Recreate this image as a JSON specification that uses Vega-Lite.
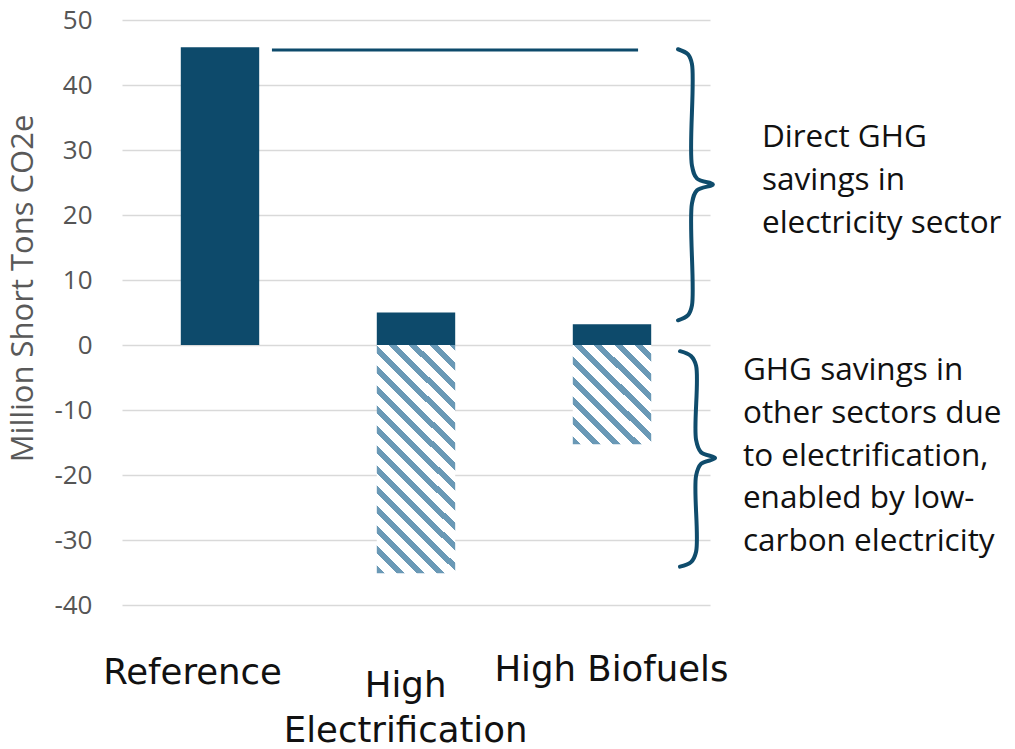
{
  "$schema": "https://vega.github.io/schema/vega-lite/v6.json",
  "width": 588,
  "height": 585,
  "autosize": {"type": "none"},
  "padding": {"left": 122, "top": 20, "right": 305, "bottom": 144},
  "background": "white",
  "config": {"view": {"stroke": null}},
  "encoding": {
    "y": {"field": "value", "type": "quantitative",
          "scale": {"domain": [-40, 50], "nice": false, "zero": true},
          "axis": {"values": [-40, -30, -20, -10, 0, 10, 20, 30, 40, 50], "title": "Million Short Tons CO2e",
                   "labelExpr": "'' + datum.value",
                   "grid": true, "gridColor": "#d9d9d9", "gridWidth": 1.5, "domain": false, "ticks": false,
                   "labelFont": "Open Sans", "labelFontSize": 26, "labelColor": "#555555", "labelPadding": 30,
                   "titleFont": "Open Sans", "titleFontSize": 31, "titleFontWeight": "normal", "titleColor": "#595959", "titlePadding": 14, "titleY": 268}}
  },
  "layer": [
    {
      "data": {"values": [
        {"scenario": "Reference", "part": "direct", "value": 45.8},
        {"scenario": "High Electrification", "part": "direct", "value": 5.0},
        {"scenario": "High Biofuels", "part": "direct", "value": 3.2},
        {"scenario": "High Electrification", "part": "other", "value": -35.1},
        {"scenario": "High Biofuels", "part": "other", "value": -15.25}
      ]},
      "encoding": {
        "x": {"field": "scenario", "type": "nominal", "sort": ["Reference", "High Electrification", "High Biofuels"],
              "scale": {"paddingInner": 0.6, "paddingOuter": 0.3}, "axis": null}
      },
      "layer": [
        {"transform": [{"filter": "datum.part === 'direct'"}], "mark": {"type": "bar", "color": "#0d4a6b"}},
        {"transform": [{"filter": "datum.part === 'other' && datum.scenario === 'High Electrification'"}],
         "mark": {"type": "bar", "fill": {"gradient": "linear", "x1": 0, "y1": 1, "x2": 0.4111, "y2": -0.2015, "stops": [
           {"offset": 0, "color": "#6a99b6"}, {"offset": 0.0261, "color": "#6a99b6"}, {"offset": 0.0261, "color": "#ffffff"}, {"offset": 0.0654, "color": "#ffffff"},
           {"offset": 0.0654, "color": "#6a99b6"}, {"offset": 0.0915, "color": "#6a99b6"}, {"offset": 0.0915, "color": "#ffffff"}, {"offset": 0.1307, "color": "#ffffff"},
           {"offset": 0.1307, "color": "#6a99b6"}, {"offset": 0.1568, "color": "#6a99b6"}, {"offset": 0.1568, "color": "#ffffff"}, {"offset": 0.1961, "color": "#ffffff"},
           {"offset": 0.1961, "color": "#6a99b6"}, {"offset": 0.2222, "color": "#6a99b6"}, {"offset": 0.2222, "color": "#ffffff"}, {"offset": 0.2614, "color": "#ffffff"},
           {"offset": 0.2614, "color": "#6a99b6"}, {"offset": 0.2875, "color": "#6a99b6"}, {"offset": 0.2875, "color": "#ffffff"}, {"offset": 0.3268, "color": "#ffffff"},
           {"offset": 0.3268, "color": "#6a99b6"}, {"offset": 0.3529, "color": "#6a99b6"}, {"offset": 0.3529, "color": "#ffffff"}, {"offset": 0.3921, "color": "#ffffff"},
           {"offset": 0.3921, "color": "#6a99b6"}, {"offset": 0.4182, "color": "#6a99b6"}, {"offset": 0.4182, "color": "#ffffff"}, {"offset": 0.4575, "color": "#ffffff"},
           {"offset": 0.4575, "color": "#6a99b6"}, {"offset": 0.4836, "color": "#6a99b6"}, {"offset": 0.4836, "color": "#ffffff"}, {"offset": 0.5228, "color": "#ffffff"},
           {"offset": 0.5228, "color": "#6a99b6"}, {"offset": 0.5489, "color": "#6a99b6"}, {"offset": 0.5489, "color": "#ffffff"}, {"offset": 0.5882, "color": "#ffffff"},
           {"offset": 0.5882, "color": "#6a99b6"}, {"offset": 0.6143, "color": "#6a99b6"}, {"offset": 0.6143, "color": "#ffffff"}, {"offset": 0.6535, "color": "#ffffff"},
           {"offset": 0.6535, "color": "#6a99b6"}, {"offset": 0.6796, "color": "#6a99b6"}, {"offset": 0.6796, "color": "#ffffff"}, {"offset": 0.7189, "color": "#ffffff"},
           {"offset": 0.7189, "color": "#6a99b6"}, {"offset": 0.745, "color": "#6a99b6"}, {"offset": 0.745, "color": "#ffffff"}, {"offset": 0.7842, "color": "#ffffff"},
           {"offset": 0.7842, "color": "#6a99b6"}, {"offset": 0.8103, "color": "#6a99b6"}, {"offset": 0.8103, "color": "#ffffff"}, {"offset": 0.8496, "color": "#ffffff"},
           {"offset": 0.8496, "color": "#6a99b6"}, {"offset": 0.8757, "color": "#6a99b6"}, {"offset": 0.8757, "color": "#ffffff"}, {"offset": 0.9149, "color": "#ffffff"},
           {"offset": 0.9149, "color": "#6a99b6"}, {"offset": 0.941, "color": "#6a99b6"}, {"offset": 0.941, "color": "#ffffff"}, {"offset": 0.9803, "color": "#ffffff"},
           {"offset": 0.9803, "color": "#6a99b6"}, {"offset": 1, "color": "#6a99b6"}
         ]}}},
        {"transform": [{"filter": "datum.part === 'other' && datum.scenario === 'High Biofuels'"}],
         "mark": {"type": "bar", "fill": {"gradient": "linear", "x1": 0, "y1": 1, "x2": 0.8691, "y2": -0.1031, "stops": [
           {"offset": 0, "color": "#6a99b6"}, {"offset": 0.0452, "color": "#6a99b6"}, {"offset": 0.0452, "color": "#ffffff"}, {"offset": 0.113, "color": "#ffffff"},
           {"offset": 0.113, "color": "#6a99b6"}, {"offset": 0.1582, "color": "#6a99b6"}, {"offset": 0.1582, "color": "#ffffff"}, {"offset": 0.226, "color": "#ffffff"},
           {"offset": 0.226, "color": "#6a99b6"}, {"offset": 0.2712, "color": "#6a99b6"}, {"offset": 0.2712, "color": "#ffffff"}, {"offset": 0.339, "color": "#ffffff"},
           {"offset": 0.339, "color": "#6a99b6"}, {"offset": 0.3842, "color": "#6a99b6"}, {"offset": 0.3842, "color": "#ffffff"}, {"offset": 0.452, "color": "#ffffff"},
           {"offset": 0.452, "color": "#6a99b6"}, {"offset": 0.4972, "color": "#6a99b6"}, {"offset": 0.4972, "color": "#ffffff"}, {"offset": 0.565, "color": "#ffffff"},
           {"offset": 0.565, "color": "#6a99b6"}, {"offset": 0.6102, "color": "#6a99b6"}, {"offset": 0.6102, "color": "#ffffff"}, {"offset": 0.678, "color": "#ffffff"},
           {"offset": 0.678, "color": "#6a99b6"}, {"offset": 0.7232, "color": "#6a99b6"}, {"offset": 0.7232, "color": "#ffffff"}, {"offset": 0.791, "color": "#ffffff"},
           {"offset": 0.791, "color": "#6a99b6"}, {"offset": 0.8362, "color": "#6a99b6"}, {"offset": 0.8362, "color": "#ffffff"}, {"offset": 0.904, "color": "#ffffff"},
           {"offset": 0.904, "color": "#6a99b6"}, {"offset": 0.9492, "color": "#6a99b6"}, {"offset": 0.9492, "color": "#ffffff"}, {"offset": 1, "color": "#ffffff"}
         ]}}}
      ]
    },
    {
      "layer": [
        {
          "data": {"values": [{"from": 0.765, "to": 2.633, "value": 45.4}]},
          "mark": {"type": "rule", "color": "#0d4a6b", "strokeWidth": 3},
          "encoding": {
            "x": {"field": "from", "type": "quantitative", "scale": {"domain": [0, 3], "nice": false, "zero": false}, "axis": null},
            "x2": {"field": "to"}
          }
        },
        {
          "data": {"values": [
            {"brace": "top", "i": 1, "pos": 2.837, "value": 45.5},
            {"brace": "top", "i": 2, "pos": 2.888, "value": 44.7},
            {"brace": "top", "i": 3, "pos": 2.908, "value": 43.2},
            {"brace": "top", "i": 4, "pos": 2.908, "value": 27.6},
            {"brace": "top", "i": 5, "pos": 2.934, "value": 25.6},
            {"brace": "top", "i": 6, "pos": 3.015, "value": 24.7},
            {"brace": "top", "i": 7, "pos": 2.934, "value": 23.8},
            {"brace": "top", "i": 8, "pos": 2.908, "value": 21.8},
            {"brace": "top", "i": 9, "pos": 2.908, "value": 6.1},
            {"brace": "top", "i": 10, "pos": 2.888, "value": 4.6},
            {"brace": "top", "i": 11, "pos": 2.837, "value": 3.8},
            {"brace": "bottom", "i": 1, "pos": 2.847, "value": -0.95},
            {"brace": "bottom", "i": 2, "pos": 2.903, "value": -1.7},
            {"brace": "bottom", "i": 3, "pos": 2.929, "value": -3.2},
            {"brace": "bottom", "i": 4, "pos": 2.929, "value": -14.6},
            {"brace": "bottom", "i": 5, "pos": 2.954, "value": -16.5},
            {"brace": "bottom", "i": 6, "pos": 3.026, "value": -17.4},
            {"brace": "bottom", "i": 7, "pos": 2.954, "value": -18.3},
            {"brace": "bottom", "i": 8, "pos": 2.929, "value": -20.1},
            {"brace": "bottom", "i": 9, "pos": 2.929, "value": -31.8},
            {"brace": "bottom", "i": 10, "pos": 2.903, "value": -33.4},
            {"brace": "bottom", "i": 11, "pos": 2.847, "value": -34.1}
          ]},
          "mark": {"type": "line", "color": "#0f4c6c", "strokeWidth": 4, "interpolate": "catmull-rom", "strokeCap": "round", "strokeJoin": "round"},
          "encoding": {
            "x": {"field": "pos", "type": "quantitative", "scale": {"domain": [0, 3], "nice": false, "zero": false}, "axis": null},
            "detail": {"field": "brace"},
            "order": {"field": "i", "type": "quantitative"}
          }
        },
        {
          "data": {"values": [
            {"label": "Reference", "pos": 0.36, "value": -52.1},
            {"label": "High\nElectrification", "pos": 1.447, "value": -54.1},
            {"label": "High Biofuels", "pos": 2.497, "value": -51.7}
          ]},
          "mark": {"type": "text", "font": "DejaVu Sans", "fontSize": 35.5, "color": "#111111", "align": "center", "baseline": "alphabetic", "lineBreak": "\n", "lineHeight": 45},
          "encoding": {
            "x": {"field": "pos", "type": "quantitative", "scale": {"domain": [0, 3], "nice": false, "zero": false}, "axis": null},
            "text": {"field": "label"}
          }
        },
        {
          "data": {"values": [
            {"note": "Direct GHG\nsavings in\nelectricity sector", "pos": 3.265, "value": 30.4},
            {"note": "GHG savings in\nother sectors due\nto electrification,\nenabled by low-\ncarbon electricity", "pos": 3.168, "value": -5.4}
          ]},
          "mark": {"type": "text", "font": "Open Sans", "fontSize": 31.5, "color": "#111111", "align": "left", "baseline": "alphabetic", "lineBreak": "\n", "lineHeight": 42.8},
          "encoding": {
            "x": {"field": "pos", "type": "quantitative", "scale": {"domain": [0, 3], "nice": false, "zero": false}, "axis": null},
            "text": {"field": "note"}
          }
        }
      ]
    }
  ],
  "resolve": {"scale": {"x": "independent"}}
}
